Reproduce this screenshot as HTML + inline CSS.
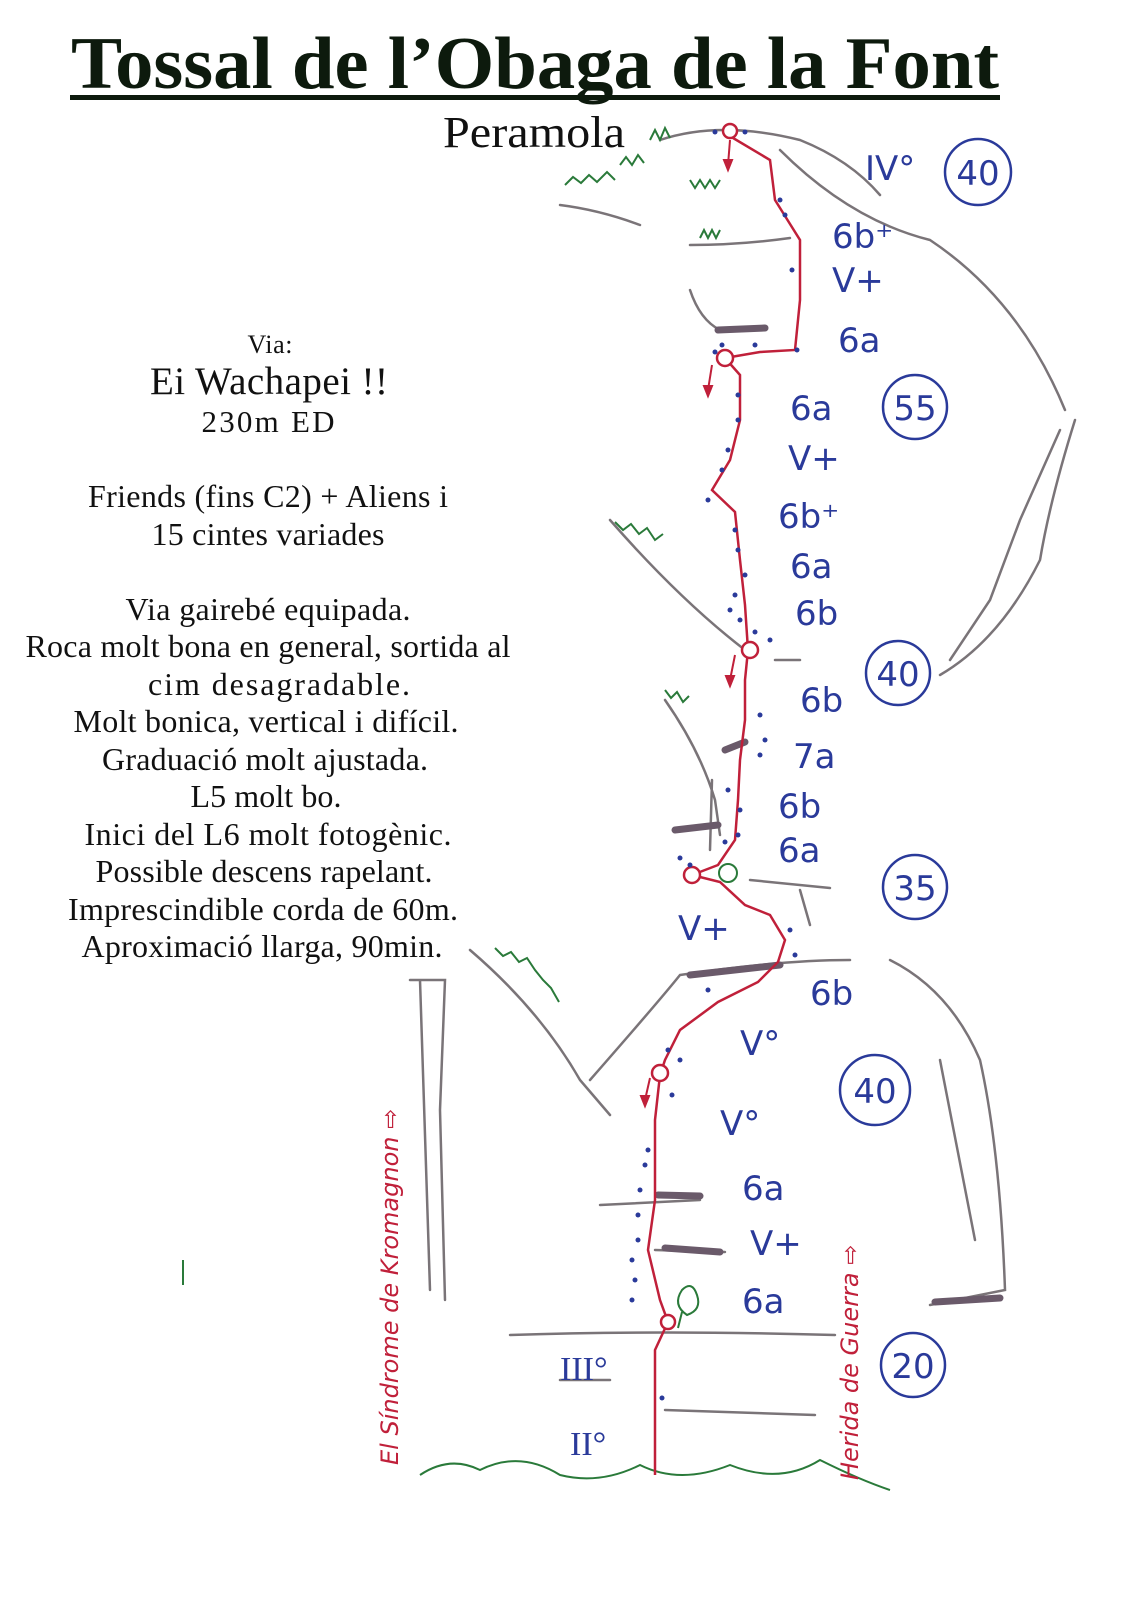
<!DOCTYPE html>
<html><head><meta charset="utf-8"><style>
html,body{margin:0;padding:0;background:#fff;}
svg{display:block}
.t{font-family:"Liberation Serif",serif;fill:#111;text-anchor:middle}
.g{font-family:"DejaVu Sans",sans-serif;fill:#2a3a9a;font-size:34px}
.r{fill:none;stroke:#7a7478;stroke-width:2.5;stroke-linecap:round}
.gr{fill:none;stroke:#2a7a3a;stroke-width:2}
</style></head><body>
<svg width="1132" height="1600" viewBox="0 0 1132 1600" xmlns="http://www.w3.org/2000/svg">
<text x="535" y="88" class="t" font-size="74" font-weight="bold" style="fill:#0d1a0d" textLength="928" lengthAdjust="spacingAndGlyphs">Tossal de l’Obaga de la Font</text>
<rect x="70" y="95" width="930" height="5" fill="#0d1a0d"/>
<text x="534" y="147" class="t" font-size="44" textLength="182" lengthAdjust="spacingAndGlyphs">Peramola</text>
<g class="t" lengthAdjust="spacingAndGlyphs">
<text x="270" y="353" font-size="26" textLength="45">Via:</text>
<text x="269" y="394" font-size="39" textLength="238">Ei  Wachapei !!</text>
<text x="268" y="432" font-size="31" textLength="133">230m  ED</text>
<text x="268" y="507" font-size="32" textLength="360">Friends (fins C2) + Aliens i</text>
<text x="268" y="545" font-size="32" textLength="233">15 cintes variades</text>
<text x="268" y="620" font-size="32" textLength="285">Via gairebé equipada.</text>
<text x="268" y="657" font-size="32" textLength="485">Roca molt bona en general, sortida al</text>
<text x="279" y="695" font-size="32" textLength="262">cim desagradable.</text>
<text x="266" y="732" font-size="32" textLength="385">Molt bonica, vertical i difícil.</text>
<text x="265" y="770" font-size="32" textLength="326">Graduació molt ajustada.</text>
<text x="266" y="807" font-size="32" textLength="151">L5 molt bo.</text>
<text x="268" y="845" font-size="32" textLength="367">Inici del L6 molt fotogènic.</text>
<text x="264" y="882" font-size="32" textLength="337">Possible descens rapelant.</text>
<text x="263" y="920" font-size="32" textLength="390">Imprescindible corda de 60m.</text>
<text x="262" y="957" font-size="32" textLength="361">Aproximació llarga, 90min.</text>
</g>
<!-- rock lines -->
<path class="r" d="M660 140 Q720 120 800 140 Q850 160 880 195 M560 205 Q600 210 640 225 M690 245 Q740 245 790 238 M690 290 Q700 320 720 330 M780 150 Q850 220 930 240 Q1020 300 1065 410 M1075 420 Q1050 500 1040 560 Q1000 640 940 675 M1060 430 L1020 520 L990 600 L950 660 M610 520 Q680 600 745 650 M775 660 L800 660 M665 700 Q700 750 715 800 L720 835 M712 780 L710 850 M750 880 L830 888 M800 890 L810 925 M470 950 Q540 1010 580 1080 L610 1115 M590 1080 Q660 1000 680 975 Q780 960 850 960 M890 960 Q950 990 980 1060 Q1000 1150 1005 1290 L930 1305 M940 1060 L975 1240 M410 980 L445 980 L440 1110 L445 1300 M420 980 L430 1290 M600 1205 L700 1200 M655 1250 L725 1252 M510 1335 Q660 1330 835 1335 M560 1380 L610 1380 M665 1410 L815 1415"/>
<g stroke="#6a5a6a" stroke-width="7" stroke-linecap="round">
<line x1="718" y1="330" x2="765" y2="328"/><line x1="675" y1="830" x2="718" y2="825"/><line x1="725" y1="750" x2="745" y2="742"/><line x1="690" y1="975" x2="780" y2="965"/><line x1="935" y1="1302" x2="1000" y2="1298"/><line x1="658" y1="1195" x2="700" y2="1196"/><line x1="665" y1="1248" x2="720" y2="1252"/>
</g>
<!-- vegetation -->
<path class="gr" d="M565 185 l8-8 8 6 8-8 8 7 10-10 8 8 M620 165 l6-8 6 8 6-10 6 8 M690 180 l5 8 5-8 5 8 5-8 5 8 5-8 M650 140 l5-10 5 10 5-12 5 10 M700 238 l4-8 4 8 4-8 4 8 4-8 M615 522 l8 8 8-6 8 10 8-6 8 12 8-6 M665 690 l6 8 6-6 6 10 6-6 M495 948 l8 8 8-4 8 10 8-4 8 12 8 10 8 8 8 14 M420 1475 q30-20 60 -5 q40-20 80 5 q40 10 80-10 q40 20 90 0 q50 20 90-5 q40 20 70 30"/>
<!-- route -->
<path fill="none" stroke="#c0203a" stroke-width="2.5" d="M728 135 L770 160 L775 200 L800 240 L800 300 L795 350 L760 352 L725 358 M725 358 L740 375 L740 420 L730 460 L712 490 L735 512 L740 560 L745 605 L748 650 L745 680 L745 720 L740 760 L738 800 L735 840 L718 865 L692 875 M692 875 L720 882 L745 905 L770 915 L785 940 L778 962 L758 982 L718 1002 L680 1030 L665 1060 L660 1075 L655 1120 L655 1200 L648 1250 L660 1300 L668 1322 L655 1350 L655 1475"/>
<g fill="#fff" stroke="#c0203a" stroke-width="2.5">
<circle cx="730" cy="131" r="7"/><circle cx="725" cy="358" r="8"/><circle cx="750" cy="650" r="8"/><circle cx="692" cy="875" r="8"/><circle cx="660" cy="1073" r="8"/><circle cx="668" cy="1322" r="7"/>
</g>
<circle cx="728" cy="873" r="9" fill="none" stroke="#2a7a3a" stroke-width="2"/>
<path d="M687 1315 q-15-10-5-25 q10-10 15 5 q5 15-10 20 z M682 1312 L678 1328" fill="none" stroke="#2a7a3a" stroke-width="2"/>
<g stroke="#c0203a" stroke-width="2" fill="#c0203a">
<line x1="730" y1="140" x2="728" y2="165"/><path d="M724 160 L728 170 L732 160 z"/>
<line x1="712" y1="365" x2="708" y2="390"/><path d="M704 386 L708 396 L712 386 z"/>
<line x1="735" y1="655" x2="730" y2="680"/><path d="M726 676 L730 686 L734 676 z"/>
<line x1="650" y1="1078" x2="645" y2="1100"/><path d="M641 1096 L645 1106 L649 1096 z"/>
</g>
<!-- bolts -->
<g fill="#2a3a9a">
<circle cx="715" cy="132" r="2.5"/><circle cx="745" cy="132" r="2.5"/><circle cx="780" cy="200" r="2.5"/><circle cx="785" cy="215" r="2.5"/><circle cx="792" cy="270" r="2.5"/><circle cx="797" cy="350" r="2.5"/><circle cx="715" cy="352" r="2.5"/><circle cx="722" cy="345" r="2.5"/><circle cx="755" cy="345" r="2.5"/>
<circle cx="738" cy="395" r="2.5"/><circle cx="738" cy="420" r="2.5"/><circle cx="728" cy="450" r="2.5"/><circle cx="722" cy="470" r="2.5"/><circle cx="708" cy="500" r="2.5"/><circle cx="735" cy="530" r="2.5"/><circle cx="738" cy="550" r="2.5"/><circle cx="745" cy="575" r="2.5"/><circle cx="735" cy="595" r="2.5"/><circle cx="730" cy="610" r="2.5"/><circle cx="740" cy="620" r="2.5"/><circle cx="755" cy="632" r="2.5"/><circle cx="770" cy="640" r="2.5"/>
<circle cx="760" cy="715" r="2.5"/><circle cx="765" cy="740" r="2.5"/><circle cx="760" cy="755" r="2.5"/><circle cx="728" cy="790" r="2.5"/><circle cx="740" cy="810" r="2.5"/><circle cx="738" cy="835" r="2.5"/><circle cx="725" cy="842" r="2.5"/><circle cx="680" cy="858" r="2.5"/><circle cx="690" cy="865" r="2.5"/>
<circle cx="790" cy="930" r="2.5"/><circle cx="795" cy="955" r="2.5"/><circle cx="708" cy="990" r="2.5"/><circle cx="668" cy="1050" r="2.5"/><circle cx="680" cy="1060" r="2.5"/><circle cx="672" cy="1095" r="2.5"/><circle cx="648" cy="1150" r="2.5"/><circle cx="645" cy="1165" r="2.5"/><circle cx="640" cy="1190" r="2.5"/><circle cx="638" cy="1215" r="2.5"/><circle cx="638" cy="1240" r="2.5"/><circle cx="632" cy="1260" r="2.5"/><circle cx="635" cy="1280" r="2.5"/><circle cx="632" cy="1300" r="2.5"/><circle cx="662" cy="1398" r="2.5"/>
</g>
<!-- grades -->
<g class="g">
<text x="865" y="180">IV°</text><text x="832" y="248">6b⁺</text><text x="832" y="292">V+</text><text x="838" y="352">6a</text>
<text x="790" y="420">6a</text><text x="788" y="470">V+</text><text x="778" y="528">6b⁺</text><text x="790" y="578">6a</text><text x="795" y="625">6b</text>
<text x="800" y="712">6b</text><text x="793" y="768">7a</text><text x="778" y="818">6b</text><text x="778" y="862">6a</text>
<text x="678" y="940">V+</text><text x="810" y="1005">6b</text><text x="740" y="1055">V°</text><text x="720" y="1135">V°</text>
<text x="742" y="1200">6a</text><text x="750" y="1255">V+</text><text x="742" y="1313">6a</text>
<text x="560" y="1380" font-family="Liberation Serif">III°</text><text x="570" y="1455" font-family="Liberation Serif">II°</text>
</g>
<g fill="none" stroke="#2a3a9a" stroke-width="2.5">
<circle cx="978" cy="172" r="33"/><circle cx="915" cy="407" r="32"/><circle cx="898" cy="673" r="32"/><circle cx="915" cy="887" r="32"/><circle cx="875" cy="1090" r="35"/><circle cx="913" cy="1365" r="32"/>
</g>
<g class="g" text-anchor="middle" font-size="36">
<text x="978" y="185">40</text><text x="915" y="420">55</text><text x="898" y="686">40</text><text x="915" y="900">35</text><text x="875" y="1103">40</text><text x="913" y="1378">20</text>
</g>
<g font-family="DejaVu Sans,sans-serif" font-size="24" fill="#c0203a" font-style="italic">
<text transform="translate(398 1465) rotate(-90)">El Síndrome de Kromagnon ⇨</text>
<text transform="translate(858 1480) rotate(-90)">Herida de Guerra ⇨</text>
</g>
<line x1="183" y1="1260" x2="183" y2="1285" stroke="#2a7a3a" stroke-width="2"/>
</svg>
</body></html>
